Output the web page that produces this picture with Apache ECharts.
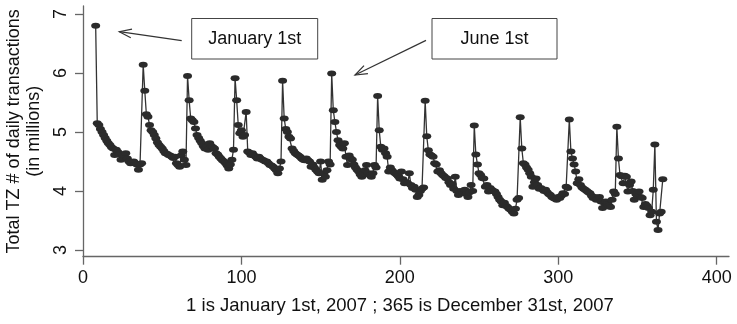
<!DOCTYPE html>
<html><head><meta charset="utf-8">
<script src="https://cdn.jsdelivr.net/npm/echarts@6/dist/echarts.min.js"></script>
<style>html,body{margin:0;padding:0;background:#fff}#c{width:737px;height:324px}</style>
</head><body><div id="c"></div>
<script>
// Day on which each monthly segment (starting with its spike) begins
const segStarts = [8, 38, 66, 96, 126, 157, 186, 216, 247, 276, 307, 337, 361];
// Daily totals (millions), one array per segment, first value = spike
const seg01 = [6.8, 5.15, 5.12, 5.05, 5.0, 4.95, 4.9, 4.85, 4.81, 4.78, 4.74, 4.72, 4.61, 4.7, 4.66, 4.62, 4.53, 4.61, 4.6, 4.64, 4.55, 4.5, 4.47, 4.48, 4.5, 4.47, 4.45, 4.36, 4.45, 4.47];
const seg02 = [6.14, 5.7, 5.3, 5.26, 5.12, 5.03, 5.0, 4.95, 4.89, 4.82, 4.78, 4.75, 4.72, 4.68, 4.64, 4.63, 4.61, 4.6, 4.58, 4.56, 4.58, 4.47, 4.44, 4.41, 4.6, 4.67, 4.53, 4.44];
const seg03 = [5.95, 5.54, 5.23, 5.2, 5.17, 5.06, 4.95, 4.9, 4.85, 4.81, 4.76, 4.72, 4.75, 4.7, 4.81, 4.76, 4.74, 4.72, 4.64, 4.62, 4.58, 4.55, 4.52, 4.5, 4.47, 4.43, 4.38, 4.45, 4.53, 4.7];
const seg04 = [5.91, 5.54, 5.12, 4.98, 5.03, 4.92, 4.95, 5.34, 4.67, 4.65, 4.61, 4.64, 4.6, 4.58, 4.55, 4.58, 4.55, 4.53, 4.52, 4.5, 4.5, 4.47, 4.44, 4.43, 4.41, 4.38, 4.35, 4.3, 4.38, 4.5];
const seg05 = [5.87, 5.23, 5.05, 5.0, 4.92, 4.89, 4.72, 4.68, 4.64, 4.62, 4.6, 4.58, 4.55, 4.53, 4.52, 4.55, 4.52, 4.5, 4.41, 4.45, 4.4, 4.36, 4.33, 4.3, 4.5, 4.19, 4.3, 4.24, 4.35, 4.5, 4.45];
const seg06 = [5.99, 5.37, 5.17, 5.0, 4.86, 4.78, 4.75, 4.72, 4.81, 4.58, 4.44, 4.6, 4.55, 4.53, 4.45, 4.4, 4.36, 4.33, 4.28, 4.24, 4.3, 4.35, 4.44, 4.3, 4.27, 4.24, 4.3, 4.44, 4.4];
const seg07 = [5.61, 5.03, 4.75, 4.7, 4.72, 4.64, 4.58, 4.33, 4.4, 4.35, 4.32, 4.3, 4.28, 4.25, 4.21, 4.33, 4.2, 4.13, 4.15, 4.13, 4.3, 4.1, 4.05, 4.07, 4.02, 3.9, 3.93, 4.0, 4.04, 4.06];
const seg08 = [5.53, 4.93, 4.69, 4.62, 4.6, 4.58, 4.47, 4.45, 4.33, 4.35, 4.3, 4.27, 4.25, 4.22, 4.21, 4.15, 4.1, 4.12, 4.04, 4.24, 4.0, 3.93, 3.99, 4.0, 3.97, 4.02, 3.95, 3.9, 3.98, 4.1, 4.0];
const seg09 = [5.11, 4.62, 4.45, 4.3, 4.27, 4.22, 4.21, 4.07, 4.1, 3.99, 4.05, 4.02, 4.0, 3.99, 3.95, 3.9, 3.85, 3.82, 3.76, 3.8, 3.75, 3.73, 3.7, 3.68, 3.65, 3.62, 3.7, 3.85, 3.88];
const seg10 = [5.25, 4.72, 4.47, 4.45, 4.4, 4.36, 4.3, 4.24, 4.07, 4.15, 4.21, 4.1, 4.04, 4.05, 4.03, 4.0, 4.02, 3.98, 3.95, 3.93, 3.9, 3.88, 3.87, 3.85, 3.9, 3.88, 3.92, 3.96, 3.95, 4.07, 4.05];
const seg11 = [5.21, 4.67, 4.55, 4.45, 4.33, 4.13, 4.2, 4.1, 4.06, 4.04, 4.02, 4.0, 3.98, 3.96, 3.92, 3.88, 3.9, 3.85, 3.87, 3.9, 3.82, 3.71, 3.8, 3.82, 3.78, 3.75, 3.73, 3.85, 3.99, 3.95];
const seg12 = [5.09, 4.55, 4.27, 4.25, 4.13, 4.26, 4.24, 3.99, 4.1, 4.16, 4.0, 3.85, 3.95, 3.92, 3.99, 3.9, 3.88, 3.73, 3.78, 3.75, 3.71, 3.59, 3.65, 4.02];
const seg13 = [4.79, 3.48, 3.34, 3.62, 3.65, 4.2];
const segments = [seg01, seg02, seg03, seg04, seg05, seg06, seg07, seg08, seg09, seg10, seg11, seg12, seg13];

const xTicks = [0, 100, 200, 300, 400];
const yTicks = [3, 4, 5, 6, 7];
const xTitle = '1 is January 1st, 2007 ; 365 is December 31st, 2007';
const yTitle = 'Total TZ # of daily transactions\n(in millions)';
const noteLabels = ['January 1st', 'June 1st'];

const data = [];
segments.forEach((seg, k) => seg.forEach((v, i) => data.push([segStarts[k] + i, v])));

const FONT = 'Liberation Sans, Arial, Helvetica, sans-serif';
const AXIS_COLOR = '#666';

function arrow(tail, head) {
  const dx = head[0] - tail[0], dy = head[1] - tail[1];
  const len = Math.hypot(dx, dy);
  const bx = -dx / len, by = -dy / len;
  const L = 13, a = 20 * Math.PI / 180;
  const w1 = [head[0] + L * (bx * Math.cos(a) - by * Math.sin(a)), head[1] + L * (bx * Math.sin(a) + by * Math.cos(a))];
  const w2 = [head[0] + L * (bx * Math.cos(-a) - by * Math.sin(-a)), head[1] + L * (bx * Math.sin(-a) + by * Math.cos(-a))];
  return [
    { type: 'line', shape: { x1: tail[0], y1: tail[1], x2: head[0], y2: head[1] }, style: { stroke: '#333', lineWidth: 1.2 } },
    { type: 'polyline', shape: { points: [w1, head, w2] }, style: { stroke: '#333', lineWidth: 1.2, fill: null } }
  ];
}
function box(x, y, w, h, text) {
  return [
    { type: 'rect', shape: { x: x, y: y, width: w, height: h }, style: { fill: '#fff', stroke: '#444', lineWidth: 1 } },
    { type: 'text', x: x + w / 2, y: y + h / 2, style: { text: text, font: '18px ' + FONT, fill: '#111', align: 'center', verticalAlign: 'middle' } }
  ];
}

const chart = echarts.init(document.getElementById('c'), null, { renderer: 'canvas' });
chart.setOption({
  animation: false,
  backgroundColor: '#fff',
  grid: { left: 83, right: 8, top: 6, bottom: 67.3, containLabel: false, outerBoundsMode: 'none' },
  xAxis: {
    type: 'value', min: 0, max: 407.8, interval: 100,
    axisLine: { lineStyle: { color: AXIS_COLOR, width: 1.3 } },
    axisTick: { length: 8, customValues: xTicks, lineStyle: { color: AXIS_COLOR, width: 1.3 } },
    axisLabel: { customValues: xTicks, fontSize: 18, fontFamily: FONT, color: '#111', margin: 12,
      formatter: v => (xTicks.indexOf(v) >= 0 ? String(v) : '') },
    splitLine: { show: false },
    name: xTitle, nameLocation: 'middle', nameGap: 40,
    nameTextStyle: { fontSize: 18.5, fontFamily: FONT, color: '#111', padding: [0, 12, 0, 0] }
  },
  yAxis: {
    type: 'value', min: 2.886, max: 7.136, interval: 1,
    axisLine: { show: true, lineStyle: { color: AXIS_COLOR, width: 1.3 } },
    axisTick: { show: true, length: 8, customValues: yTicks, lineStyle: { color: AXIS_COLOR, width: 1.3 } },
    axisLabel: { customValues: yTicks, rotate: 90, fontSize: 18, fontFamily: FONT, color: '#111', margin: 13,
      formatter: v => (yTicks.indexOf(v) >= 0 ? String(v) : '') },
    splitLine: { show: false },
    name: yTitle, nameLocation: 'middle', nameGap: 35,
    nameTextStyle: { fontSize: 18, fontFamily: FONT, color: '#111', lineHeight: 20 }
  },
  series: [{
    type: 'line', data: data,
    symbol: 'circle', symbolSize: [9, 6], showSymbol: true, showAllSymbol: true,
    itemStyle: { color: '#2b2b2b' },
    lineStyle: { color: '#333', width: 1.3 }
  }],
  graphic: [].concat(
    box(191.7, 18.5, 126, 40.5, noteLabels[0]),
    box(432, 18.5, 125, 40.5, noteLabels[1]),
    arrow([181.7, 40.7], [119.3, 31.7]),
    arrow([426, 40.4], [355, 75])
  )
});
</script></body></html>
